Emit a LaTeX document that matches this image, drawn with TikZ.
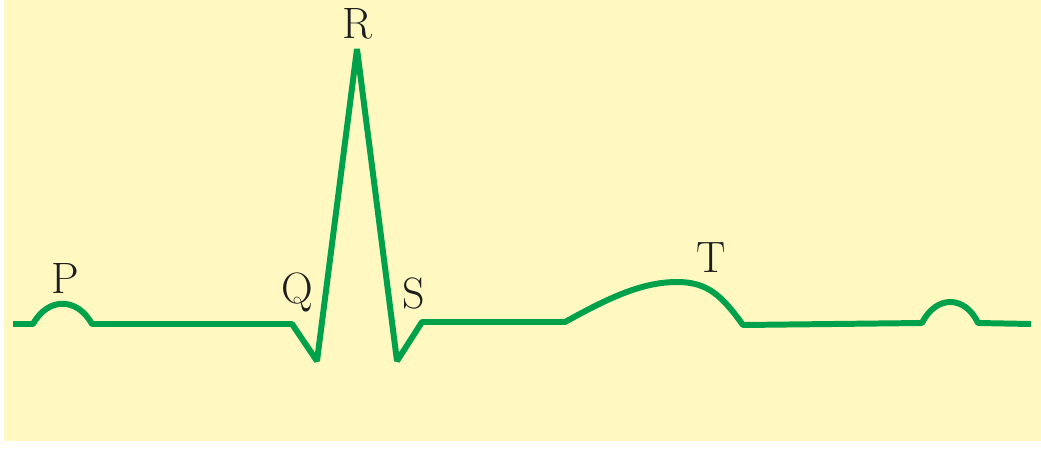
\documentclass[tikz,border=0pt]{standalone}
\begin{document}
\begin{tikzpicture}[x=0.02cm,y=-0.02cm,
  wave/.style={draw=ecggreen,line width=3.4pt,line join=bevel},
  lbl/.style={anchor=base,inner sep=0pt,text=lblcol,font=\fontsize{25}{30}\selectfont}]
\definecolor{ecggreen}{RGB}{0,161,75}
\definecolor{bgyellow}{RGB}{255,249,193}
\definecolor{lblcol}{RGB}{30,30,30}
\useasboundingbox (0,0) rectangle (1041,450);
\fill[bgyellow] (4,0) rectangle (1041,441);
% key points
\coordinate (start) at (13,324);
\coordinate (p1s) at (33,324);
\coordinate (p1e) at (92,324);
\coordinate (qs) at (292,324);
\coordinate (q) at (317,361);
\coordinate (r) at (357,49);
\coordinate (s) at (397,361);
\coordinate (se) at (422,322);
\coordinate (ts) at (565,322);
\coordinate (tp) at (677,282);
\coordinate (te) at (743,325);
\coordinate (p2s) at (922,323);
\coordinate (p2e) at (978,323);
\coordinate (end) at (1031,324);
\draw[wave] (start) -- (p1s) .. controls (48,297) and (77,297) .. (p1e)
  -- (qs) -- (q) -- (r) -- (s) -- (se) -- (ts)
  .. controls (605,300) and (640,282) .. (tp)
  .. controls (708,282) and (722,296) .. (te)
  -- (p2s) .. controls (936,295) and (965,295) .. (p2e) -- (end);
% labels
\node[lbl] (P) at (65,293) {P};
\node[lbl] (R) at (357,38) {R};
\node[lbl] (Q) at (297,303) {Q};
\node[lbl] (S) at (414,308) {S};
\node[lbl] (T) at (711,272) {T};
\end{tikzpicture}
\end{document}
